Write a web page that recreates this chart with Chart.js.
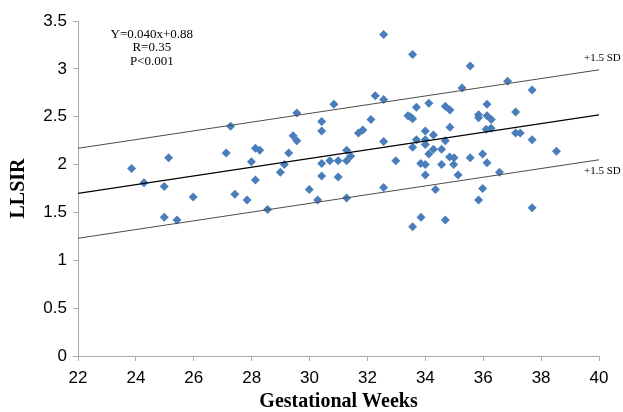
<!DOCTYPE html>
<html>
<head>
<meta charset="utf-8">
<script src="https://cdn.jsdelivr.net/npm/chart.js@4.4.1/dist/chart.umd.min.js"></script>
<style>
  body { margin: 0; background: #fff; }
  #chart { display: block; }
</style>
</head>
<body>
<canvas id="chart" width="623" height="412"></canvas>
<script>
// gestational week / LLSIR pairs
const weeks = [
  23.85, 24.28, 24.98, 25.13, 24.98, 25.42, 25.98, 27.12, 27.27, 27.42,
  27.84, 27.99, 28.13, 28.28, 28.13, 28.55, 28.99, 29.13, 29.28, 29.43,
  29.56, 29.56, 29.99, 30.28, 30.42, 30.42, 30.42, 30.42, 30.70, 30.84,
  30.99, 30.99, 31.28, 31.42, 31.28, 31.28, 31.69, 31.84, 32.12, 32.27,
  32.56, 32.56, 32.56, 32.56, 32.98, 33.40, 33.48, 33.56, 33.56, 33.56,
  33.56, 33.69, 33.69, 33.84, 33.85, 34.00, 34.00, 34.00, 34.00, 34.00,
  34.12, 34.12, 34.28, 34.28, 34.35, 34.56, 34.56, 34.69, 34.69, 34.69,
  34.85, 34.85, 34.84, 34.99, 34.98, 35.13, 35.27, 35.55, 35.55, 35.84,
  35.84, 35.84, 35.98, 35.98, 36.10, 36.13, 36.13, 36.13, 36.27, 36.28,
  36.56, 36.84, 37.12, 37.12, 37.28, 37.69, 37.69, 37.69, 38.53
];
const llsir = [
  1.96, 1.81, 1.77, 2.07, 1.45, 1.42, 1.66, 2.12, 2.40, 1.69,
  1.63, 2.03, 2.17, 2.15, 1.84, 1.53, 1.92, 2.00, 2.12, 2.30,
  2.25, 2.54, 1.74, 1.63, 2.45, 2.35, 2.01, 1.88, 2.04, 2.63,
  2.04, 1.87, 2.15, 2.09, 2.04, 1.65, 2.33, 2.36, 2.47, 2.72,
  3.36, 2.68, 2.24, 1.76, 2.04, 2.51, 2.50, 2.48, 3.15, 2.18,
  1.35, 2.60, 2.26, 2.01, 1.45, 2.35, 2.26, 2.21, 2.00, 1.89,
  2.64, 2.11, 2.31, 2.16, 1.74, 2.16, 2.00, 2.61, 2.25, 1.42,
  2.57, 2.39, 2.08, 2.07, 2.00, 1.89, 2.80, 3.03, 2.07, 2.52,
  2.49, 1.63, 2.11, 1.75, 2.37, 2.63, 2.51, 2.02, 2.38, 2.47,
  1.92, 2.87, 2.55, 2.33, 2.33, 2.78, 2.26, 1.55, 2.14
];

// regression line and +/-1.5 SD band, values at both ends of the x range
const lineX = [22, 40];
const fitLine = [1.70, 2.52];
const upperLine = [2.17, 2.99];
const lowerLine = [1.23, 2.05];

const xTicks = [22, 24, 26, 28, 30, 32, 34, 36, 38, 40];
const yTicks = [0, 0.5, 1, 1.5, 2, 2.5, 3, 3.5];

const statsText = ['Y=0.040x+0.88', 'R=0.35', 'P<0.001'];
const sdLabel = '+1.5 SD';

const toPoints = (xs, ys) => xs.map((x, i) => ({ x: x, y: ys[i] }));

const lineSet = (ys, color, width) => ({
  data: toPoints(lineX, ys),
  showLine: true,
  borderColor: color,
  borderWidth: width,
  pointRadius: 0,
  pointHoverRadius: 0,
  fill: false,
});

const textPlugin = {
  id: 'chartText',
  afterDatasetsDraw(chart) {
    const { ctx, scales: { x, y } } = chart;
    ctx.save();
    ctx.fillStyle = '#000';
    ctx.textBaseline = 'middle';

    // stats block in the upper left corner
    ctx.font = '13px "Liberation Serif", "Times New Roman", serif';
    ctx.textAlign = 'center';
    const cx = x.getPixelForValue(24.55);
    statsText.forEach((t, i) => {
      ctx.fillText(t, cx, y.getPixelForValue(3.36) + i * 13.5);
    });

    // SD labels next to the end of each band line
    ctx.font = '11px "Liberation Serif", "Times New Roman", serif';
    ctx.textAlign = 'left';
    const lx = x.getPixelForValue(39.48);
    ctx.fillText(sdLabel, lx, y.getPixelForValue(upperLine[1]) - 12);
    ctx.fillText(sdLabel, lx, y.getPixelForValue(lowerLine[1]) + 11);
    ctx.restore();
  }
};

const axisColor = '#ababab';
const tickFont = { family: '"Liberation Sans", Arial, sans-serif', size: 17 };
const titleFont = { family: '"Liberation Serif", "Times New Roman", serif', size: 20, weight: 'bold', lineHeight: 1 };

const ctx = document.getElementById('chart').getContext('2d');
new Chart(ctx, {
  type: 'scatter',
  data: {
    datasets: [
      lineSet(fitLine, '#000', 1.3),
      lineSet(upperLine, '#4d4d4d', 1),
      lineSet(lowerLine, '#4d4d4d', 1),
      {
        data: toPoints(weeks, llsir),
        backgroundColor: '#4a7ebb',
        borderColor: '#4a7ebb',
        borderWidth: 0,
        pointStyle: 'rectRot',
        pointRadius: 4.5,
        pointHoverRadius: 4.5,
      },
    ],
  },
  options: {
    responsive: false,
    animation: false,
    devicePixelRatio: 1,
    layout: { padding: { top: 21, right: 24, left: 0, bottom: 0 } },
    plugins: {
      legend: { display: false },
      tooltip: { enabled: false },
    },
    scales: {
      x: {
        type: 'linear',
        min: 22,
        max: 40,
        afterBuildTicks: (s) => { s.ticks = xTicks.map((v) => ({ value: v })); },
        afterFit: (s) => { s.height = 56; },
        grid: { drawOnChartArea: false, tickLength: 5, color: axisColor },
        border: { color: axisColor, width: 1 },
        ticks: { color: '#000', font: tickFont, padding: 7, maxRotation: 0, callback: (v) => String(v) },
        title: {
          display: true,
          text: 'Gestational Weeks',
          color: '#000',
          font: titleFont,
          padding: { top: -2, bottom: 0 },
        },
      },
      y: {
        type: 'linear',
        min: 0,
        max: 3.5,
        afterBuildTicks: (s) => { s.ticks = yTicks.map((v) => ({ value: v })); },
        afterFit: (s) => { s.width = 78; },
        grid: { drawOnChartArea: false, tickLength: 5, color: axisColor },
        border: { color: axisColor, width: 1 },
        ticks: { color: '#000', font: tickFont, padding: 6, callback: (v) => String(v) },
        title: {
          display: true,
          text: 'LLSIR',
          color: '#000',
          font: titleFont,
          padding: { top: 9, bottom: 0 },
        },
      },
    },
  },
  plugins: [textPlugin],
});
</script>
</body>
</html>
